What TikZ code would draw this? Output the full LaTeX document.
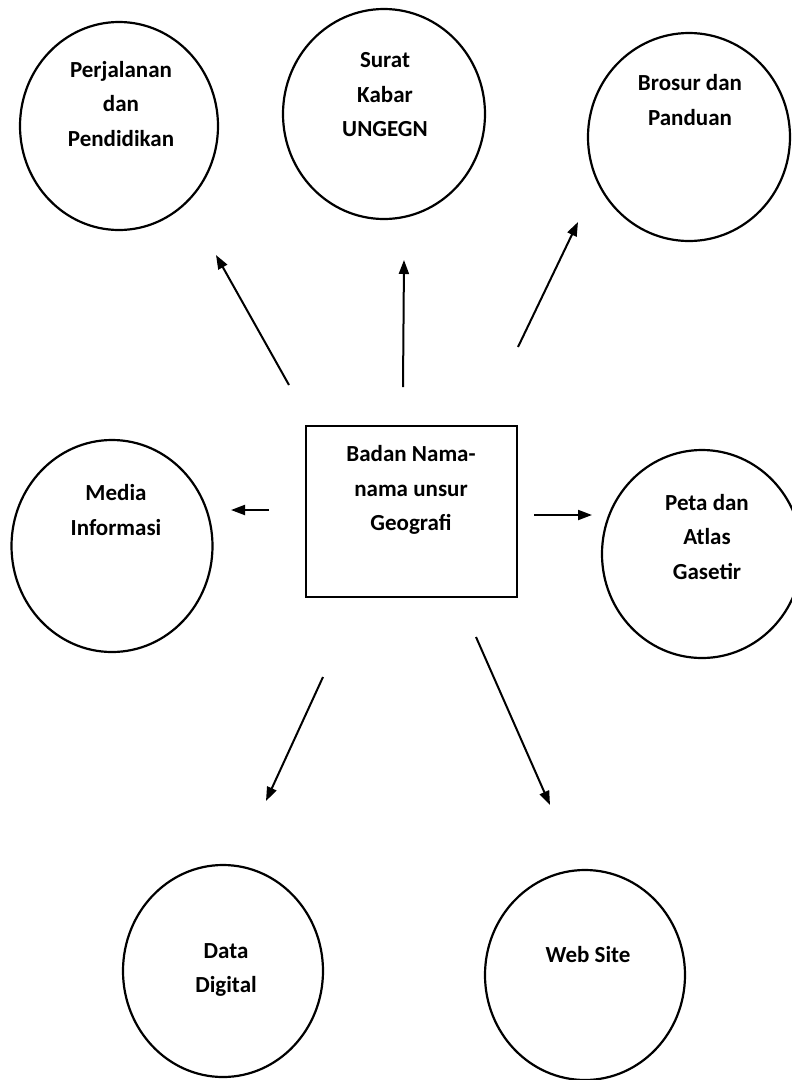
\documentclass[tikz,border=0pt]{standalone}
\usepackage{fontspec}
\setmainfont{Carlito}
\usetikzlibrary{shapes.geometric,arrows.meta}
\begin{document}
\begin{tikzpicture}[x=1pt,y=-1pt,
  oval/.style={draw,ellipse,line width=2.2pt,inner sep=0pt},
  lbl/.style={align=center,inner sep=0pt,font=\bfseries\fontsize{23}{34.5}\selectfont},
  arr/.style={line width=2pt,-{Triangle[length=14pt,width=10pt]}}]
\useasboundingbox (0,0) rectangle (792,1080);
% ellipses
\node[oval,minimum width=198pt,minimum height=208pt] (e1) at (119,126) {};
\node[oval,minimum width=202pt,minimum height=210pt] (e2) at (384,114) {};
\node[oval,minimum width=202pt,minimum height=208pt] (e3) at (689,137) {};
\node[oval,minimum width=201pt,minimum height=212pt] (e4) at (112,546) {};
\node[oval,minimum width=200pt,minimum height=208pt] (e5) at (702,554) {};
\node[oval,minimum width=200pt,minimum height=212pt] (e6) at (223,971) {};
\node[oval,minimum width=200pt,minimum height=210pt] (e7) at (585,975) {};
% centre box
\node[draw,line width=2.2pt,minimum width=211pt,minimum height=171pt,inner sep=0pt] (box) at (411.5,511.5) {};
% labels
\node[lbl] (t1) at (121,104) {Perjalanan\\dan\\Pendidikan};
\node[lbl] (t2) at (385,95) {Surat\\Kabar\\UNGEGN};
\node[lbl] (t3) at (690,100) {Brosur dan\\Panduan};
\node[lbl] (t4) at (116,510) {Media\\Informasi};
\node[lbl] (t5) at (707,537) {Peta dan\\Atlas\\Gasetir};
\node[lbl] (t6) at (226,970) {Data\\Digital};
\node[lbl] (t7) at (588,955) {Web Site};
\node[lbl] (tb) at (411,490) {Badan Nama-\\nama unsur\\Geografi};
% arrow end points
\coordinate (a1s) at (289,385); \coordinate (a1e) at (216,255);
\coordinate (a2s) at (403,387); \coordinate (a2e) at (404,260);
\coordinate (a3s) at (518,347); \coordinate (a3e) at (578,222);
\coordinate (a4s) at (269,510); \coordinate (a4e) at (231,510);
\coordinate (a5s) at (534,515); \coordinate (a5e) at (592,515);
\coordinate (a6s) at (323,677); \coordinate (a6e) at (266,801);
\coordinate (a7s) at (476,637); \coordinate (a7e) at (550,805);
\draw[arr] (a1s) -- (a1e);
\draw[arr] (a2s) -- (a2e);
\draw[arr] (a3s) -- (a3e);
\draw[arr] (a4s) -- (a4e);
\draw[arr] (a5s) -- (a5e);
\draw[arr] (a6s) -- (a6e);
\draw[arr] (a7s) -- (a7e);
\end{tikzpicture}
\end{document}
